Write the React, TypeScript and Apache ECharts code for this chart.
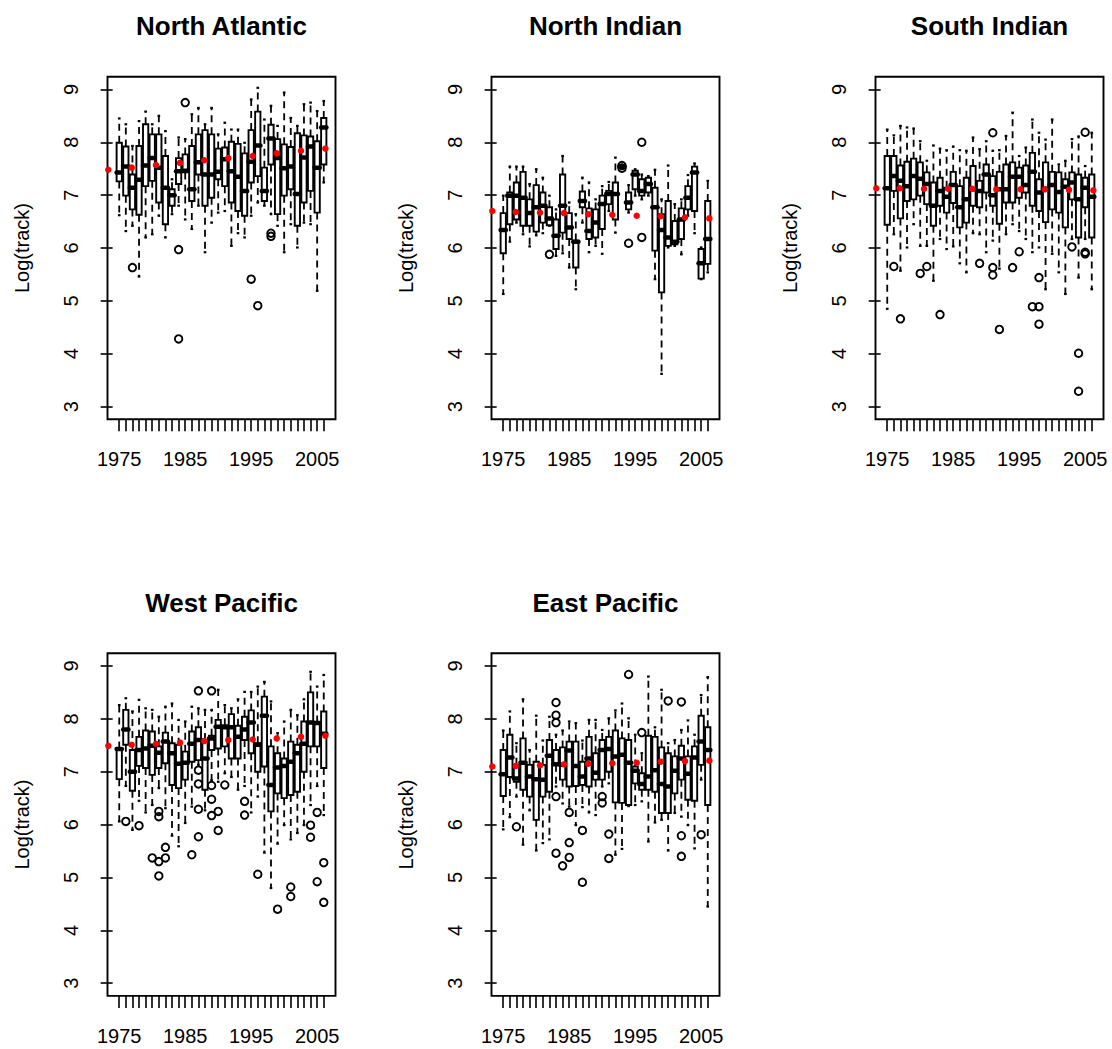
import React, { useEffect, useRef } from "react";
import * as echarts from "echarts";

// ---------- data ----------
const years = [
  1975, 1976, 1977, 1978, 1979, 1980, 1981, 1982, 1983, 1984, 1985, 1986, 1987, 1988, 1989, 1990,
  1991, 1992, 1993, 1994, 1995, 1996, 1997, 1998, 1999, 2000, 2001, 2002, 2003, 2004, 2005, 2006,
];
const yTickValues = [3, 4, 5, 6, 7, 8, 9];
const xLabelYears = [1975, 1985, 1995, 2005];
// horizontal positions (in box-index units) of the red trend points
const trendX = [-0.66, 2.89, 6.57, 10.21, 13.89, 17.53, 21.23, 24.87, 28.55, 32.24];

// [lower whisker, Q1, median, Q3, upper whisker] for each year
const northAtlanticStats = [
  [6.62, 7.26, 7.43, 7.99, 8.45], [6.32, 6.99, 7.54, 7.92, 8.34], [6.42, 6.73, 7.14, 7.39, 7.93],
  [5.46, 6.63, 7.29, 7.93, 8.4], [6.2, 7.17, 7.56, 8.34, 8.58], [6.26, 7.27, 7.7, 8.15, 8.34],
  [6.61, 6.86, 7.52, 8.15, 8.5], [6.2, 6.45, 7.14, 7.74, 8.21], [6.64, 6.8, 7.0, 7.11, 7.3],
  [6.8, 7.21, 7.45, 7.7, 8.09], [6.54, 7.43, 7.46, 7.77, 8.06], [6.36, 6.89, 7.11, 7.93, 8.53],
  [6.8, 7.39, 7.62, 8.15, 8.65], [5.92, 6.8, 7.39, 8.23, 8.34], [6.48, 6.95, 7.39, 8.15, 8.65],
  [6.67, 7.3, 7.44, 7.88, 8.15], [6.7, 7.17, 7.68, 7.9, 8.37], [6.04, 6.86, 7.45, 8.01, 8.24],
  [6.28, 6.7, 7.35, 7.97, 8.24], [6.2, 6.61, 7.08, 7.79, 7.99], [6.61, 7.24, 7.63, 8.23, 8.81],
  [6.86, 7.36, 7.94, 8.58, 9.03], [6.8, 6.89, 7.08, 7.52, 8.43], [6.64, 7.58, 8.07, 8.33, 8.69],
  [6.42, 6.64, 7.7, 8.06, 8.31], [5.92, 6.99, 7.51, 7.96, 8.94], [6.45, 7.11, 7.54, 7.91, 8.46],
  [6.01, 6.42, 7.02, 8.17, 8.31], [6.48, 6.86, 7.71, 8.13, 8.72], [6.45, 7.08, 7.92, 8.11, 8.75],
  [5.19, 6.67, 7.52, 8.02, 8.59], [7.24, 7.58, 8.28, 8.46, 8.78],
];
const northAtlanticOutliers = [
  [1977, 5.63], [1984, 5.97], [1984, 4.28], [1985, 8.75], [1995, 5.41], [1996, 4.91], [1998, 6.28], [1998, 6.22],
];
const northAtlanticTrend = [7.48, 7.52, 7.57, 7.61, 7.66, 7.7, 7.74, 7.79, 7.84, 7.88];

const northIndianStats = [
  [5.13, 5.9, 6.34, 6.66, 6.99], [6.12, 6.45, 6.99, 7.05, 7.54], [6.48, 6.54, 6.99, 7.24, 7.54],
  [6.26, 6.42, 6.95, 7.44, 7.54], [6.03, 6.42, 6.66, 6.92, 7.21], [6.24, 6.31, 6.77, 7.19, 7.49],
  [6.28, 6.48, 6.8, 7.05, 7.33], [6.42, 6.43, 6.56, 6.77, 6.99], [5.85, 5.98, 6.23, 6.54, 6.73],
  [5.9, 6.29, 6.8, 7.39, 7.74], [5.63, 6.17, 6.39, 6.66, 6.86], [5.22, 5.63, 6.12, 6.14, 6.64],
  [6.48, 6.77, 6.89, 7.07, 7.33], [5.92, 6.17, 6.32, 6.75, 7.24], [6.04, 6.2, 6.48, 6.73, 6.92],
  [5.89, 6.36, 6.83, 6.99, 7.17], [6.7, 6.83, 7.02, 7.08, 7.25], [6.29, 6.54, 7.02, 7.24, 7.71],
  [7.5, 7.52, 7.54, 7.56, 7.58], [6.67, 6.73, 6.86, 7.05, 7.19], [6.99, 7.11, 7.39, 7.46, 7.49],
  [6.92, 6.99, 7.08, 7.3, 7.39], [6.99, 7.05, 7.21, 7.33, 7.36], [5.41, 5.95, 6.77, 7.14, 7.48],
  [3.62, 5.16, 6.34, 6.64, 6.92], [6.01, 6.04, 6.2, 6.89, 7.56], [6.04, 6.07, 6.12, 6.51, 6.83],
  [5.88, 6.17, 6.54, 6.75, 6.92], [6.61, 6.73, 6.95, 7.17, 7.38], [6.28, 6.7, 7.43, 7.54, 7.6],
  [5.41, 5.42, 5.71, 5.98, 6.01], [5.54, 5.7, 6.17, 6.89, 7.27],
];
const northIndianOutliers = [
  [1982, 5.88], [1993, 7.56], [1993, 7.51], [1994, 6.09], [1996, 8.0], [1996, 6.2],
];
const northIndianTrend = [6.7, 6.68, 6.67, 6.66, 6.64, 6.63, 6.61, 6.6, 6.58, 6.56];

const southIndianStats = [
  [4.85, 6.44, 7.13, 7.74, 8.24], [6.26, 7.08, 7.36, 7.74, 8.13], [5.57, 6.56, 7.27, 7.56, 8.31],
  [6.01, 6.89, 7.17, 7.63, 8.28], [6.45, 6.92, 7.36, 7.69, 8.26], [6.04, 6.99, 7.31, 7.62, 8.02],
  [6.04, 6.83, 7.21, 7.43, 7.65], [5.38, 6.42, 6.8, 7.24, 7.94], [6.17, 6.8, 7.08, 7.33, 7.88],
  [5.98, 6.67, 6.97, 7.14, 7.85], [6.03, 6.85, 7.19, 7.44, 7.92], [5.71, 6.39, 6.77, 7.17, 7.85],
  [5.54, 6.48, 6.92, 7.33, 7.84], [6.28, 6.8, 7.11, 7.55, 8.09], [6.26, 6.77, 7.08, 7.27, 7.87],
  [5.92, 7.05, 7.39, 7.58, 8.02], [6.14, 6.8, 7.0, 7.36, 7.84], [5.61, 6.46, 7.11, 7.44, 7.85],
  [6.26, 6.86, 7.11, 7.58, 8.12], [6.45, 6.86, 7.35, 7.62, 8.56], [6.32, 6.95, 7.35, 7.52, 7.74],
  [6.17, 7.05, 7.19, 7.56, 7.9], [5.92, 6.8, 7.44, 7.8, 8.43], [6.01, 6.7, 7.05, 7.3, 8.18],
  [5.22, 6.49, 7.12, 7.62, 8.05], [5.89, 6.73, 7.19, 7.44, 8.43], [5.54, 6.67, 7.06, 7.43, 7.58],
  [5.13, 6.39, 7.16, 7.3, 7.65], [6.17, 6.92, 7.24, 7.43, 8.06], [5.44, 6.2, 6.92, 7.39, 8.11],
  [6.17, 6.77, 7.14, 7.33, 7.55], [5.22, 6.2, 6.97, 7.39, 8.18],
];
const southIndianOutliers = [
  [1976, 5.65], [1977, 4.66], [1980, 5.52], [1981, 5.65], [1983, 4.74], [1989, 5.71], [1991, 8.18],
  [1991, 5.63], [1991, 5.49], [1992, 4.46], [1994, 5.63], [1995, 5.93], [1997, 4.89], [1998, 4.89],
  [1998, 4.56], [1998, 5.44], [2003, 6.02], [2004, 4.01], [2004, 3.29], [2005, 8.19], [2005, 5.92],
  [2005, 5.89],
];
const southIndianTrend = [7.13, 7.13, 7.12, 7.12, 7.12, 7.11, 7.11, 7.11, 7.1, 7.09];

const westPacificStats = [
  [6.06, 6.86, 7.43, 7.44, 8.26], [6.73, 7.51, 7.8, 8.17, 8.39], [5.9, 6.64, 7.0, 7.41, 8.14],
  [6.45, 7.11, 7.41, 7.66, 8.36], [6.23, 7.07, 7.44, 7.78, 8.2], [6.37, 6.94, 7.49, 7.76, 8.17],
  [6.69, 7.07, 7.36, 7.48, 8.04], [6.31, 7.16, 7.57, 7.74, 8.23], [5.79, 6.75, 7.35, 7.54, 8.29],
  [5.59, 6.69, 7.15, 7.51, 7.98], [6.03, 6.85, 7.17, 7.38, 7.95], [6.34, 7.19, 7.53, 7.76, 8.23],
  [7.13, 7.22, 7.6, 7.84, 8.2], [6.27, 6.66, 7.25, 7.6, 8.17], [6.84, 7.41, 7.63, 7.68, 8.17],
  [6.81, 7.44, 7.85, 7.98, 8.55], [6.97, 7.48, 7.84, 7.88, 8.26], [6.9, 7.25, 7.84, 8.09, 8.2],
  [6.66, 7.25, 7.66, 7.87, 8.37], [6.73, 7.6, 7.8, 8.04, 8.51], [6.23, 7.35, 7.93, 8.16, 8.51],
  [6.53, 7.0, 7.51, 7.54, 8.61], [5.47, 7.1, 8.06, 8.42, 8.7], [4.8, 6.25, 6.75, 7.48, 8.33],
  [5.64, 6.59, 7.08, 7.35, 7.73], [5.99, 6.5, 7.11, 7.25, 7.95], [5.72, 6.56, 7.19, 7.57, 8.17],
  [5.84, 6.62, 7.35, 7.51, 8.07], [5.99, 7.0, 7.53, 7.95, 8.37], [6.37, 7.48, 7.93, 8.5, 8.89],
  [6.73, 7.48, 7.92, 7.93, 8.61], [6.18, 7.07, 7.72, 8.14, 8.83],
];
const westPacificOutliers = [
  [1976, 6.06], [1978, 5.98], [1980, 5.37], [1981, 6.25], [1981, 6.15], [1981, 5.3], [1981, 5.03],
  [1982, 5.57], [1982, 5.37], [1986, 5.43], [1987, 8.53], [1987, 7.03], [1987, 6.77], [1987, 6.29],
  [1987, 5.77], [1989, 8.53], [1989, 6.74], [1989, 6.48], [1989, 6.17], [1990, 6.25], [1990, 5.89],
  [1991, 6.75], [1994, 6.44], [1994, 6.18], [1996, 5.06], [1999, 4.4], [2001, 4.82], [2001, 4.64],
  [2004, 5.99], [2004, 5.76], [2005, 6.23], [2005, 4.92], [2006, 5.28], [2006, 4.53],
];
const westPacificTrend = [7.49, 7.51, 7.53, 7.55, 7.58, 7.6, 7.61, 7.63, 7.66, 7.68];

const eastPacificStats = [
  [5.91, 6.54, 6.95, 7.41, 7.78], [6.14, 6.9, 7.27, 7.7, 8.14], [6.53, 6.81, 6.87, 7.13, 7.54],
  [5.62, 6.66, 7.17, 7.63, 8.37], [6.27, 6.53, 6.91, 7.13, 7.41], [5.51, 6.09, 6.86, 7.19, 8.06],
  [5.65, 6.53, 6.85, 7.13, 7.59], [5.72, 6.62, 7.3, 7.6, 8.04], [6.72, 7.13, 7.14, 7.41, 7.7],
  [6.4, 6.85, 7.13, 7.46, 7.78], [6.34, 6.72, 7.4, 7.57, 7.95], [5.99, 6.73, 7.11, 7.57, 7.92],
  [6.33, 6.75, 6.91, 7.19, 7.59], [6.23, 6.72, 7.25, 7.66, 7.98], [6.18, 6.85, 6.98, 7.35, 7.98],
  [6.72, 6.85, 7.41, 7.6, 7.79], [6.78, 7.0, 7.43, 7.66, 8.01], [5.43, 6.42, 7.29, 7.78, 8.16],
  [5.54, 6.41, 7.32, 7.63, 8.29], [6.35, 6.37, 7.17, 7.6, 8.01], [6.37, 6.78, 7.02, 7.1, 7.7],
  [6.44, 6.66, 6.77, 6.97, 7.35], [5.68, 6.66, 6.91, 7.68, 8.8], [6.04, 6.62, 7.03, 7.66, 7.84],
  [6.09, 6.22, 6.77, 7.46, 8.55], [5.51, 6.22, 6.72, 7.35, 7.54], [6.22, 6.59, 7.02, 7.29, 7.6],
  [6.15, 6.85, 7.25, 7.49, 7.79], [5.99, 6.47, 6.96, 7.29, 7.97], [5.55, 6.45, 7.27, 7.48, 7.7],
  [6.85, 7.13, 7.57, 8.06, 8.45], [4.45, 6.37, 7.41, 7.84, 8.79],
];
const eastPacificOutliers = [
  [1977, 5.96], [1983, 8.31], [1983, 8.07], [1983, 7.93], [1983, 6.53], [1983, 5.46], [1984, 5.22],
  [1985, 6.23], [1985, 5.66], [1985, 5.38], [1987, 5.89], [1987, 4.91], [1990, 6.53], [1990, 6.41],
  [1991, 5.82], [1991, 5.36], [1994, 8.84], [1996, 7.74], [2000, 8.34], [2002, 8.32], [2002, 5.79],
  [2002, 5.4], [2005, 5.81],
];
const eastPacificTrend = [7.1, 7.11, 7.12, 7.14, 7.15, 7.16, 7.17, 7.19, 7.2, 7.21];

const regions = [
  { title: "North Atlantic", stats: northAtlanticStats, outliers: northAtlanticOutliers, trend: northAtlanticTrend },
  { title: "North Indian", stats: northIndianStats, outliers: northIndianOutliers, trend: northIndianTrend },
  { title: "South Indian", stats: southIndianStats, outliers: southIndianOutliers, trend: southIndianTrend },
  { title: "West Pacific", stats: westPacificStats, outliers: westPacificOutliers, trend: westPacificTrend },
  { title: "East Pacific", stats: eastPacificStats, outliers: eastPacificOutliers, trend: eastPacificTrend },
];

// ---------- layout ----------
const FONT = '"Liberation Sans", Arial, Helvetica, sans-serif';
const PANEL_W = 228;
const PANEL_H = 342.6;
const panelPos = [
  { left: 107.5, top: 76.7 },
  { left: 491.5, top: 76.7 },
  { left: 875.5, top: 76.7 },
  { left: 107.5, top: 653.3 },
  { left: 491.5, top: 653.3 },
];
const X_MIN = -0.78;
const X_MAX = 33.78;
const Y_MIN = 2.76;
const Y_MAX = 9.24;
const BOX_WIDTH = 0.8;

const renderBox = (_params: any, api: any) => {
  const x = api.value(0);
  const lo = api.value(1);
  const q1 = api.value(2);
  const med = api.value(3);
  const q3 = api.value(4);
  const hi = api.value(5);
  const cx = api.coord([x, lo])[0];
  const yLo = api.coord([x, lo])[1];
  const yQ1 = api.coord([x, q1])[1];
  const yMed = api.coord([x, med])[1];
  const yQ3 = api.coord([x, q3])[1];
  const yHi = api.coord([x, hi])[1];
  const hw = api.size([BOX_WIDTH, 0])[0] / 2;
  const sw = hw * 0.5;
  const k = "#000";
  return {
    type: "group",
    children: [
      { type: "line", shape: { x1: cx, y1: yQ3, x2: cx, y2: yHi }, style: { stroke: k, lineWidth: 1.8, lineDash: [7, 5] } },
      { type: "line", shape: { x1: cx, y1: yQ1, x2: cx, y2: yLo }, style: { stroke: k, lineWidth: 1.8, lineDash: [7, 5] } },
      { type: "line", shape: { x1: cx - sw, y1: yHi, x2: cx + sw, y2: yHi }, style: { stroke: k, lineWidth: 2.2 } },
      { type: "line", shape: { x1: cx - sw, y1: yLo, x2: cx + sw, y2: yLo }, style: { stroke: k, lineWidth: 2.2 } },
      {
        type: "rect",
        shape: { x: cx - hw, y: yQ3, width: 2 * hw, height: Math.max(yQ1 - yQ3, 0.5) },
        style: { fill: "#fff", stroke: k, lineWidth: 1.9 },
      },
      {
        type: "line",
        shape: { x1: cx - hw, y1: yMed, x2: cx + hw, y2: yMed },
        style: { stroke: k, lineWidth: 4.5, lineCap: "round" },
      },
    ],
  };
};

function buildOption() {
  const grid: any[] = [];
  const xAxis: any[] = [];
  const yAxis: any[] = [];
  const series: any[] = [];
  const graphic: any[] = [];

  regions.forEach((r, i) => {
    const p = panelPos[i];
    grid.push({
      left: p.left,
      top: p.top,
      width: PANEL_W,
      height: PANEL_H,
      show: true,
      borderColor: "#000",
      borderWidth: 1.9,
      backgroundColor: "transparent",
      containLabel: false,
    });
    xAxis.push({
      type: "value",
      gridIndex: i,
      min: X_MIN,
      max: X_MAX,
      axisLine: { show: false },
      splitLine: { show: false },
      axisTick: {
        show: true,
        inside: false,
        length: 12,
        customValues: years.map((_y, j) => j + 1),
        lineStyle: { color: "#000", width: 1.6 },
      },
      axisLabel: {
        show: true,
        customValues: xLabelYears.map((y) => years.indexOf(y) + 1),
        formatter: (v: number) => String(years[Math.round(v) - 1]),
        fontSize: 20,
        fontFamily: FONT,
        color: "#000",
        margin: 30,
      },
    });
    yAxis.push({
      type: "value",
      gridIndex: i,
      min: Y_MIN,
      max: Y_MAX,
      axisLine: { show: false },
      splitLine: { show: false },
      axisTick: {
        show: true,
        inside: false,
        length: 12,
        customValues: yTickValues,
        lineStyle: { color: "#000", width: 1.6 },
      },
      axisLabel: {
        show: true,
        customValues: yTickValues,
        formatter: (v: number) => String(v),
        rotate: 90,
        fontSize: 20,
        fontFamily: FONT,
        color: "#000",
        margin: 27,
      },
      name: "Log(track)",
      nameLocation: "middle",
      nameRotate: 90,
      nameGap: 76,
      nameTextStyle: { fontSize: 20, fontFamily: FONT, color: "#000" },
    });
    series.push({
      type: "custom",
      xAxisIndex: i,
      yAxisIndex: i,
      renderItem: renderBox,
      encode: { x: 0, y: [1, 2, 3, 4, 5] },
      data: r.stats.map((s, j) => [j + 1, s[0], s[1], s[2], s[3], s[4]]),
      silent: true,
      z: 2,
    });
    series.push({
      type: "scatter",
      xAxisIndex: i,
      yAxisIndex: i,
      data: r.outliers.map((o) => [years.indexOf(o[0]) + 1, o[1]]),
      symbol: "circle",
      symbolSize: 7.5,
      itemStyle: { color: "rgba(0,0,0,0)", borderColor: "#000", borderWidth: 1.9, opacity: 1 },
      silent: true,
      z: 3,
    });
    series.push({
      type: "scatter",
      xAxisIndex: i,
      yAxisIndex: i,
      data: r.trend.map((v, j) => [trendX[j], v]),
      symbol: "circle",
      symbolSize: 6.5,
      itemStyle: { color: "#ff0000", opacity: 1 },
      silent: true,
      clip: false,
      z: 4,
    });
    graphic.push({
      type: "text",
      x: p.left + PANEL_W / 2,
      y: p.top - 50.5,
      style: {
        text: r.title,
        font: `bold 26px ${FONT}`,
        fill: "#000",
        align: "center",
        verticalAlign: "middle",
      },
      silent: true,
    });
  });

  return {
    animation: false,
    backgroundColor: "#fff",
    grid,
    xAxis,
    yAxis,
    series,
    graphic,
  };
}

export default function App() {
  const ref = useRef<HTMLDivElement>(null);
  useEffect(() => {
    document.body.style.margin = "0";
    const chart = echarts.init(ref.current!, null, { renderer: "svg" });
    chart.setOption(buildOption() as any);
    return () => chart.dispose();
  }, []);
  return (
    <div
      ref={ref}
      style={{ position: "absolute", left: 0, top: 0, width: 1112, height: 1049, background: "#fff" }}
    />
  );
}
